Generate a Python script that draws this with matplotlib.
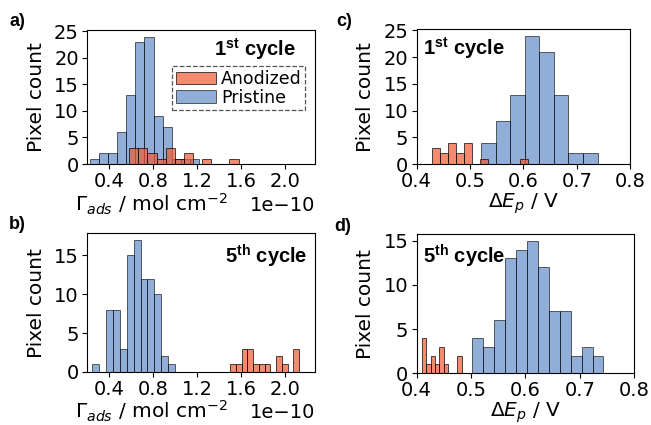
import numpy as np
import matplotlib
matplotlib.use('Agg')
import matplotlib.pyplot as plt

plt.rcParams['font.family'] = 'DejaVu Sans'
plt.rcParams['mathtext.fontset'] = 'custom'
plt.rcParams['mathtext.rm'] = 'DejaVu Sans'
plt.rcParams['mathtext.it'] = 'DejaVu Sans:italic'
plt.rcParams['mathtext.bf'] = 'Liberation Sans:bold'

# histogram data: first bin edge, bin width, counts per bin
# surface coverage (units of 1e-10 mol cm^-2)
a_pri_start, a_pri_width = 0.224, 0.0827
a_pri_counts = [1, 2, 2, 6, 13, 23, 24, 9, 7, 1, 1, 1]
a_ano_start, a_ano_width = 0.582, 0.0827
a_ano_counts = [3, 3, 2, 1, 3, 1, 2, 0, 1, 0, 0, 1]

b_pri_start, b_pri_width = 0.2455, 0.0627
b_pri_counts = [1, 0, 8, 8, 3, 15, 17, 12, 12, 10, 2, 1]
b_ano_start, b_ano_width = 1.497, 0.0523
b_ano_counts = [1, 1, 3, 3, 1, 1, 1, 0, 2, 1, 0, 3]

# peak separation (V)
c_pri_start, c_pri_width = 0.5206, 0.0273
c_pri_counts = [4, 8, 13, 24, 21, 13, 2, 2]
c_ano_start, c_ano_width = 0.4288, 0.015
c_ano_counts = [3, 2, 4, 2, 4, 0, 1, 0, 0, 0, 0, 1]

d_pri_start, d_pri_width = 0.5025, 0.0201
d_pri_counts = [4, 3, 6, 13, 14, 15, 12, 7, 7, 2, 3, 2]
d_ano_start, d_ano_width = 0.4092, 0.0082
d_ano_counts = [4, 1, 2, 1, 3, 1, 0, 0, 2]

scale = 1e-10
blue = '#4878c0'
red = '#f05a32'


def draw(ax, start, width, counts, unit=1.0, **kw):
    edges = (start + width * np.arange(len(counts) + 1)) * unit
    centers = (edges[:-1] + edges[1:]) / 2
    return ax.hist(centers, bins=edges, weights=counts, edgecolor='k',
                   linewidth=0.7, **kw)


fig = plt.figure(figsize=(6.51, 4.25), dpi=100)
ax_a = fig.add_axes([0.134, 0.614, 0.350, 0.315])
ax_b = fig.add_axes([0.134, 0.125, 0.350, 0.326])
ax_c = fig.add_axes([0.640, 0.614, 0.328, 0.317])
ax_d = fig.add_axes([0.640, 0.122, 0.334, 0.327])

_, _, p1 = draw(ax_a, a_pri_start, a_pri_width, a_pri_counts, scale, color=blue, alpha=0.6, label='Pristine')
_, _, p2 = draw(ax_a, a_ano_start, a_ano_width, a_ano_counts, scale, color=red, alpha=0.7, label='Anodized')
draw(ax_b, b_pri_start, b_pri_width, b_pri_counts, scale, color=blue, alpha=0.6)
draw(ax_b, b_ano_start, b_ano_width, b_ano_counts, scale, color=red, alpha=0.7)
draw(ax_c, c_pri_start, c_pri_width, c_pri_counts, color=blue, alpha=0.6)
draw(ax_c, c_ano_start, c_ano_width, c_ano_counts, color=red, alpha=0.7)
draw(ax_d, d_pri_start, d_pri_width, d_pri_counts, color=blue, alpha=0.6)
draw(ax_d, d_ano_start, d_ano_width, d_ano_counts, color=red, alpha=0.7)

fs = 14.5
for ax in (ax_a, ax_b):
    ax.set_xlim(0.2e-10, 2.27e-10)
    ax.set_xticks(np.array([0.4, 0.8, 1.2, 1.6, 2.0]) * scale)
    ax.set_xlabel(r'$\Gamma_{ads}$ / mol cm$^{-2}$', fontsize=fs, labelpad=0, x=0.28)
    ax.xaxis.get_offset_text().set_fontsize(14)
for ax in (ax_c, ax_d):
    ax.set_xlim(0.4, 0.8)
    ax.set_xticks([0.4, 0.5, 0.6, 0.7, 0.8])
    ax.set_xlabel(r'$\Delta E_p$ / V', fontsize=fs, labelpad=0)
for ax in (ax_a, ax_b, ax_c, ax_d):
    ax.set_ylabel('Pixel count', fontsize=fs, labelpad=6)
    ax.tick_params(labelsize=14, pad=2.5)

ax_a.set_yticks([0, 5, 10, 15, 20, 25])
ax_c.set_yticks([0, 5, 10, 15, 20, 25])
ax_b.set_yticks([0, 5, 10, 15])
ax_d.set_yticks([0, 5, 10, 15])

leg = ax_a.legend([p2[0], p1[0]], ['Anodized', 'Pristine'], loc='upper right',
                  bbox_to_anchor=(0.956, 0.731), borderaxespad=0, fancybox=False,
                  fontsize=12.5, handlelength=2.3, handletextpad=0.3,
                  labelspacing=0.05, borderpad=0.2, framealpha=1)
leg.get_frame().set_linestyle('--')
leg.get_frame().set_edgecolor('#555555')
leg.get_frame().set_linewidth(0.9)

tkw = dict(fontsize=14.5, fontweight='bold', family='Liberation Sans', va='top')
ax_a.text(0.915, 0.955, r'1$^{\mathbf{st}}$ cycle', transform=ax_a.transAxes, ha='right', **tkw)
ax_c.text(0.03, 0.96, r'1$^{\mathbf{st}}$ cycle', transform=ax_c.transAxes, ha='left', **tkw)
ax_b.text(0.965, 0.935, r'5$^{\mathbf{th}}$ cycle', transform=ax_b.transAxes, ha='right', **tkw)
ax_d.text(0.03, 0.94, r'5$^{\mathbf{th}}$ cycle', transform=ax_d.transAxes, ha='left', **tkw)

lkw = dict(fontsize=13, fontweight='bold', family='Liberation Sans', va='top', ha='left')
fig.text(0.014, 0.97, 'a)', **lkw)
fig.text(0.014, 0.492, 'b)', **lkw)
fig.text(0.516, 0.97, 'c)', **lkw)
fig.text(0.514, 0.487, 'd)', **lkw)

fig.savefig('out.png', dpi=100)
